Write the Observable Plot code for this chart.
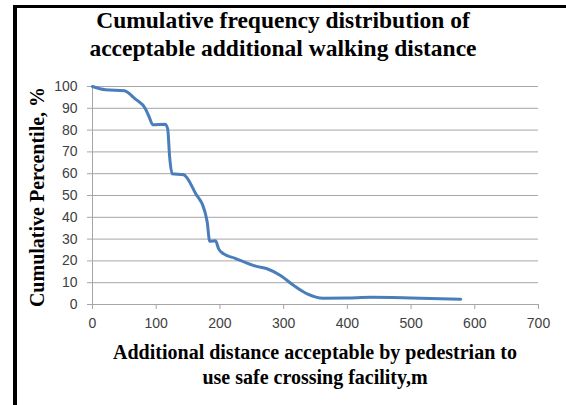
<!DOCTYPE html>
<html>
<head>
<meta charset="utf-8">
<script src="https://cdn.jsdelivr.net/npm/d3@7"></script>
<script src="https://cdn.jsdelivr.net/npm/@observablehq/plot@0.6"></script>
<style>
  html, body { margin: 0; padding: 0; background: #fff; }
  #wrap { position: relative; width: 566px; height: 405px; overflow: hidden; background: #fff; }
  .border-left { position: absolute; left: 13px; top: 5px; width: 4px; height: 400px; background: #000; }
  .border-top { position: absolute; left: 13px; top: 5px; width: 553px; height: 3px; background: #000; }
  .title { position: absolute; left: 0; width: 566px; text-align: center; font-family: "Liberation Serif", "Times New Roman", serif; font-weight: bold; font-size: 23.5px; color: #000; line-height: 28px; }
  .xlabel { position: absolute; left: 92px; width: 446px; text-align: center; font-family: "Liberation Serif", "Times New Roman", serif; font-weight: bold; font-size: 20px; color: #000; line-height: 25px; }
  .ylabel { position: absolute; left: 37px; top: 197px; transform: translate(-50%, -50%) rotate(-90deg); white-space: nowrap; font-family: "Liberation Serif", "Times New Roman", serif; font-weight: bold; font-size: 20px; color: #000; }
  #chart { position: absolute; left: 0; top: 0; }
</style>
</head>
<body>
<div id="wrap">
  <div id="chart"></div>
  <div class="border-left"></div>
  <div class="border-top"></div>
  <div class="title" style="top:6px;">Cumulative frequency distribution of<br>acceptable additional walking distance</div>
  <div class="ylabel">Cumulative Percentile, %</div>
  <div class="xlabel" style="top:340px;">Additional distance acceptable by pedestrian to<br>use safe crossing facility,m</div>
</div>
<script>
// Data
const distance = [0, 20, 50, 67, 83, 88, 95, 114, 118, 121, 125, 143, 162, 176, 180, 184, 193, 198, 206, 224, 256, 274, 295, 316, 337, 362, 400, 436, 500, 578];
const percentile = [100, 98.5, 98, 94.3, 89.8, 86.7, 82.4, 82.7, 80.6, 68, 60, 59.5, 50.8, 43, 37.8, 29, 29.2, 25.5, 23.2, 21.2, 17.6, 16.4, 13.3, 8.7, 4.9, 2.9, 3.0, 3.3, 3.0, 2.4];
const xTicks = [0, 100, 200, 300, 400, 500, 600, 700];
const yTicks = [0, 10, 20, 30, 40, 50, 60, 70, 80, 90, 100];

const data = distance.map((d, i) => ({x: d, y: percentile[i]}));

const chart = Plot.plot({
  width: 566,
  height: 405,
  marginLeft: 92,
  marginRight: 28,
  marginTop: 86,
  marginBottom: 101,
  style: {fontFamily: "'Liberation Sans', Arial, sans-serif", fontSize: "14px", background: "transparent", color: "#404040"},
  x: {domain: [0, 700], ticks: xTicks, label: null},
  y: {domain: [0, 100], ticks: yTicks, label: null},
  marks: [
    Plot.ruleY(yTicks.filter(t => t > 0), {stroke: "#a6a6a6", strokeWidth: 1}),
    Plot.ruleY([0], {stroke: "#a6a6a6", strokeWidth: 1}),
    Plot.ruleX([0], {stroke: "#a6a6a6", strokeWidth: 1}),
    Plot.axisY({ticks: yTicks, tickSize: 5, tickPadding: 10, stroke: "#a6a6a6", fill: "#404040", fontSize: 14, label: null}),
    Plot.axisX({ticks: xTicks, tickSize: 5, tickPadding: 9, stroke: "#a6a6a6", fill: "#404040", fontSize: 14, label: null}),
    Plot.line(data, {x: "x", y: "y", stroke: "#4a7ebb", strokeWidth: 3, curve: "monotone-x"})
  ]
});
document.getElementById("chart").appendChild(chart);
</script>
</body>
</html>
